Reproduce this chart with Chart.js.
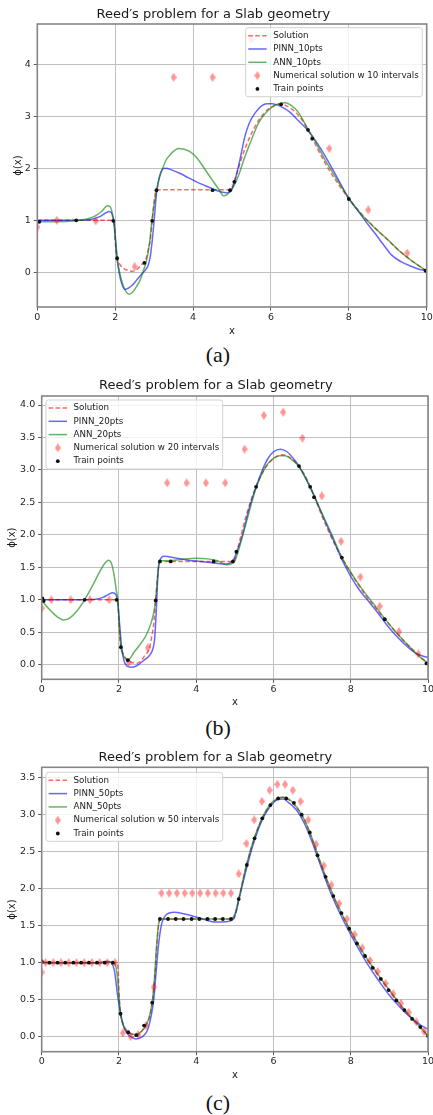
<!DOCTYPE html>
<html>
<head>
<meta charset="utf-8">
<script src="https://cdn.jsdelivr.net/npm/chart.js@4.4.0/dist/chart.umd.min.js"></script>
<style>
  body { margin: 0; background: #fff; width: 433px; height: 1115px; position: relative; overflow: hidden; }
  canvas { position: absolute; left: 0; }
  .cap { position: absolute; left: 0; width: 436px; text-align: center; font-family: "Liberation Serif", serif; font-size: 22px; line-height: 22px; color: #111; }
</style>
</head>
<body>
<canvas id="chartA" width="433" height="338" style="top:0px"></canvas>
<div class="cap" style="top:344px">(a)</div>
<canvas id="chartB" width="433" height="338" style="top:370px"></canvas>
<div class="cap" style="top:717px">(b)</div>
<canvas id="chartC" width="433" height="341" style="top:740px"></canvas>
<div class="cap" style="top:1092px">(c)</div>

<script>
// exact solution (same in all three panels)
const xSolution = [0, 0.05, 0.2, 1.0, 1.9, 1.95, 1.98, 2.0, 2.02, 2.04, 2.08, 2.14, 2.2, 2.28, 2.36, 2.45, 2.55, 2.62, 2.68, 2.75, 2.8, 2.85, 2.9, 2.95, 2.99, 3.03, 3.06, 3.1, 4.0, 4.97, 5.0, 5.05, 5.1, 5.3, 5.5, 5.7, 5.9, 6.1, 6.25, 6.4, 6.6, 6.8, 7.0, 7.2, 7.4, 7.6, 7.8, 8.0, 8.2, 8.4, 8.6, 8.8, 9.0, 9.2, 9.4, 9.6, 9.8, 10.0];
const ySolution = [0.99, 1.0, 1.0, 1.0, 1.0, 0.99, 0.9, 0.62, 0.42, 0.31, 0.21, 0.13, 0.085, 0.05, 0.03, 0.02, 0.05, 0.1, 0.15, 0.2, 0.28, 0.44, 0.62, 0.99, 1.3, 1.52, 1.58, 1.59, 1.59, 1.59, 1.62, 1.73, 1.85, 2.31, 2.67, 2.94, 3.12, 3.21, 3.235, 3.2, 3.1, 2.93, 2.67, 2.37, 2.09, 1.84, 1.62, 1.42, 1.23, 1.06, 0.91, 0.76, 0.62, 0.48, 0.35, 0.235, 0.125, 0.01];

// (a) 10 points
const xPinn10 = [0, 0.5, 1.0, 1.4, 1.6, 1.75, 1.85, 1.92, 1.97, 2.02, 2.05, 2.1, 2.17, 2.25, 2.35, 2.45, 2.55, 2.65, 2.77, 2.85, 2.9, 2.95, 3.0, 3.07, 3.14, 3.2, 3.28, 3.45, 3.67, 3.9, 4.09, 4.3, 4.52, 4.7, 4.87, 4.97, 5.08, 5.2, 5.33, 5.45, 5.59, 5.76, 5.9, 6.02, 6.15, 6.3, 6.5, 6.7, 6.96, 7.2, 7.39, 7.6, 7.82, 8.0, 8.25, 8.45, 8.67, 8.9, 9.1, 9.35, 9.62, 9.8, 10];
const yPinn10 = [1.0, 1.0, 1.0, 1.02, 1.07, 1.14, 1.17, 1.12, 0.95, 0.5, 0.27, 0.0, -0.22, -0.33, -0.3, -0.24, -0.15, -0.06, 0.04, 0.14, 0.3, 0.6, 1.0, 1.58, 1.85, 1.97, 2.0, 1.97, 1.9, 1.81, 1.74, 1.67, 1.6, 1.55, 1.53, 1.56, 1.78, 2.15, 2.61, 2.88, 3.06, 3.2, 3.24, 3.24, 3.22, 3.17, 3.07, 2.92, 2.72, 2.47, 2.24, 1.96, 1.66, 1.42, 1.17, 0.96, 0.75, 0.52, 0.33, 0.2, 0.11, 0.06, 0.03];
const xAnn10 = [0, 0.5, 1.0, 1.3, 1.5, 1.65, 1.8, 1.87, 1.93, 1.97, 2.02, 2.05, 2.1, 2.18, 2.27, 2.36, 2.45, 2.55, 2.64, 2.72, 2.81, 2.88, 2.94, 3.0, 3.07, 3.13, 3.2, 3.3, 3.41, 3.52, 3.62, 3.75, 3.92, 4.1, 4.26, 4.45, 4.61, 4.7, 4.78, 4.88, 5.0, 5.1, 5.2, 5.33, 5.5, 5.68, 5.85, 6.02, 6.2, 6.36, 6.5, 6.7, 6.96, 7.15, 7.39, 7.7, 8.0, 8.3, 8.67, 9.0, 9.27, 9.6, 10];
const yAnn10 = [0.97, 0.97, 0.99, 1.03, 1.09, 1.17, 1.28, 1.26, 1.12, 0.95, 0.55, 0.27, 0.05, -0.2, -0.36, -0.42, -0.38, -0.27, -0.15, 0.02, 0.24, 0.55, 0.97, 1.3, 1.58, 1.8, 1.96, 2.15, 2.26, 2.34, 2.38, 2.37, 2.32, 2.2, 2.03, 1.82, 1.65, 1.55, 1.47, 1.5, 1.6, 1.74, 1.93, 2.22, 2.55, 2.87, 3.05, 3.17, 3.24, 3.26, 3.22, 3.08, 2.74, 2.5, 2.16, 1.78, 1.42, 1.13, 0.85, 0.63, 0.43, 0.23, 0.03];
const xNum10 = [0, 0.5, 1.5, 2.5, 3.5, 4.5, 5.5, 6.5, 7.5, 8.5, 9.5];
const yNum10 = [0.87, 1.0, 0.99, 0.11, 3.75, 3.75, 4.48, 4.05, 2.38, 1.2, 0.37];
const xTrain10 = [0.05, 1.0, 1.95, 2.05, 2.75, 2.95, 3.06, 4.5, 4.95, 5.06, 6.26, 6.95, 7.06, 8.0, 9.97];
const yTrain10 = [0.97, 1.0, 0.99, 0.27, 0.18, 0.99, 1.58, 1.58, 1.58, 1.74, 3.23, 2.74, 2.57, 1.41, 0.03];

// (b) 20 points
const xPinn20 = [0, 0.5, 1.0, 1.4, 1.6, 1.72, 1.84, 1.92, 1.97, 2.02, 2.07, 2.13, 2.2, 2.31, 2.45, 2.65, 2.8, 2.87, 2.92, 2.95, 2.98, 3.01, 3.06, 3.17, 3.5, 3.8, 4.1, 4.4, 4.7, 4.85, 4.95, 5.04, 5.2, 5.35, 5.55, 5.7, 5.86, 6.0, 6.18, 6.35, 6.55, 6.66, 6.85, 7.06, 7.3, 7.55, 7.77, 8.0, 8.2, 8.43, 8.7, 8.95, 9.2, 9.46, 9.7, 10];
const yPinn20 = [1.0, 1.0, 1.0, 1.01, 1.04, 1.08, 1.11, 1.08, 0.95, 0.6, 0.27, 0.06, -0.02, -0.04, -0.02, 0.07, 0.15, 0.23, 0.38, 0.64, 1.0, 1.4, 1.61, 1.67, 1.64, 1.61, 1.59, 1.57, 1.55, 1.56, 1.6, 1.72, 2.0, 2.36, 2.74, 2.98, 3.18, 3.28, 3.32, 3.28, 3.15, 3.06, 2.85, 2.59, 2.26, 1.92, 1.62, 1.36, 1.17, 1.0, 0.8, 0.6, 0.43, 0.28, 0.17, 0.11];
const xAnn20 = [0, 0.08, 0.17, 0.3, 0.42, 0.55, 0.7, 0.9, 1.11, 1.3, 1.5, 1.63, 1.73, 1.8, 1.88, 1.93, 1.97, 2.01, 2.05, 2.1, 2.16, 2.23, 2.4, 2.57, 2.7, 2.83, 2.9, 2.95, 3.0, 3.04, 3.1, 3.3, 3.6, 4.0, 4.3, 4.55, 4.79, 4.9, 5.0, 5.1, 5.3, 5.55, 5.8, 6.0, 6.15, 6.3, 6.45, 6.66, 6.95, 7.2, 7.5, 7.77, 8.0, 8.3, 8.6, 8.88, 9.2, 9.5, 9.75, 10];
const yAnn20 = [1.0, 0.93, 0.87, 0.79, 0.73, 0.69, 0.71, 0.82, 1.0, 1.2, 1.43, 1.56, 1.61, 1.57, 1.36, 1.15, 1.0, 0.6, 0.27, 0.16, 0.1, 0.07, 0.2, 0.33, 0.45, 0.64, 0.8, 1.0, 1.35, 1.59, 1.6, 1.6, 1.62, 1.64, 1.63, 1.6, 1.54, 1.55, 1.6, 1.77, 2.2, 2.72, 3.05, 3.18, 3.22, 3.22, 3.17, 3.05, 2.74, 2.4, 2.02, 1.65, 1.42, 1.16, 0.93, 0.71, 0.48, 0.29, 0.14, 0.02];
const xNum20 = [0, 0.25, 0.75, 1.25, 1.75, 2.25, 2.75, 3.25, 3.75, 4.25, 4.75, 5.25, 5.75, 6.25, 6.75, 7.25, 7.75, 8.25, 8.75, 9.25, 9.75];
const yNum20 = [0.87, 1.0, 1.0, 1.0, 1.0, 0.03, 0.26, 2.8, 2.8, 2.8, 2.8, 3.32, 3.84, 3.89, 3.49, 2.6, 1.9, 1.35, 0.9, 0.51, 0.165];
const xTrain20 = [0.02, 0.05, 1.11, 1.94, 2.05, 2.23, 2.95, 3.06, 3.34, 4.45, 4.95, 5.04, 5.55, 6.66, 6.95, 7.05, 7.77, 8.88, 9.96];
const yTrain20 = [1.02, 0.98, 1.0, 1.0, 0.27, 0.07, 0.99, 1.59, 1.59, 1.59, 1.59, 1.74, 2.74, 3.06, 2.74, 2.58, 1.65, 0.7, 0.02];

// (c) 50 points
const xPinn50 = [0, 0.5, 1.0, 1.5, 1.7, 1.8, 1.88, 1.97, 2.04, 2.14, 2.22, 2.31, 2.44, 2.61, 2.74, 2.83, 2.9, 2.96, 3.02, 3.1, 3.21, 3.43, 3.68, 4.11, 4.5, 4.67, 4.85, 4.97, 5.05, 5.1, 5.3, 5.5, 5.7, 5.9, 6.1, 6.25, 6.4, 6.6, 6.8, 7.0, 7.2, 7.4, 7.6, 7.8, 8.0, 8.2, 8.4, 8.6, 8.8, 9.0, 9.2, 9.4, 9.6, 9.8, 10];
const yPinn50 = [1.0, 1.0, 1.0, 1.0, 1.02, 1.0, 0.9, 0.54, 0.32, 0.11, 0.04, 0.0, -0.03, 0.0, 0.09, 0.27, 0.5, 0.86, 1.22, 1.51, 1.64, 1.68, 1.66, 1.6, 1.55, 1.55, 1.56, 1.6, 1.72, 1.84, 2.27, 2.64, 2.92, 3.1, 3.2, 3.21, 3.16, 3.06, 2.88, 2.63, 2.34, 2.05, 1.8, 1.58, 1.38, 1.19, 1.01, 0.85, 0.7, 0.56, 0.44, 0.33, 0.24, 0.16, 0.1];
const xAnn50 = [0, 0.5, 1.0, 1.5, 1.8, 1.9, 1.95, 2.0, 2.04, 2.1, 2.2, 2.3, 2.45, 2.6, 2.7, 2.8, 2.86, 2.92, 2.97, 3.02, 3.06, 3.12, 3.5, 4.0, 4.5, 4.9, 5.0, 5.1, 5.3, 5.5, 5.7, 5.9, 6.1, 6.25, 6.4, 6.6, 6.8, 7.0, 7.2, 7.4, 7.6, 7.8, 8.0, 8.2, 8.4, 8.6, 8.8, 9.0, 9.2, 9.4, 9.6, 9.8, 10];
const yAnn50 = [1.01, 1.0, 1.0, 1.0, 1.01, 0.98, 0.85, 0.55, 0.31, 0.17, 0.07, 0.04, 0.03, 0.08, 0.15, 0.3, 0.46, 0.8, 1.2, 1.5, 1.59, 1.59, 1.59, 1.59, 1.59, 1.59, 1.66, 1.86, 2.32, 2.68, 2.95, 3.13, 3.22, 3.235, 3.21, 3.1, 2.93, 2.68, 2.38, 2.1, 1.85, 1.63, 1.43, 1.24, 1.07, 0.92, 0.77, 0.63, 0.49, 0.36, 0.24, 0.13, 0.01];
const xNum50 = [0, 0.1, 0.3, 0.5, 0.7, 0.9, 1.1, 1.3, 1.5, 1.7, 1.9, 2.1, 2.3, 2.5, 2.7, 2.9, 3.1, 3.3, 3.5, 3.7, 3.9, 4.1, 4.3, 4.5, 4.7, 4.9, 5.1, 5.3, 5.5, 5.7, 5.9, 6.1, 6.3, 6.5, 6.7, 6.9, 7.1, 7.3, 7.5, 7.7, 7.9, 8.1, 8.3, 8.5, 8.7, 8.9, 9.1, 9.3, 9.5, 9.7, 9.9];
const yNum50 = [0.87, 1.0, 1.0, 1.0, 1.0, 1.0, 1.0, 1.0, 1.0, 1.0, 1.0, 0.05, 0.0, 0.03, 0.15, 0.67, 1.94, 1.94, 1.94, 1.94, 1.94, 1.94, 1.94, 1.94, 1.94, 1.94, 2.2, 2.61, 2.93, 3.18, 3.33, 3.41, 3.41, 3.33, 3.18, 2.93, 2.6, 2.31, 2.05, 1.8, 1.59, 1.38, 1.2, 1.03, 0.88, 0.72, 0.58, 0.45, 0.33, 0.2, 0.07];
const xTrain50 = [0, 0.2, 0.41, 0.61, 0.82, 1.02, 1.22, 1.43, 1.63, 1.84, 2.04, 2.24, 2.45, 2.65, 2.86, 3.06, 3.27, 3.47, 3.67, 3.88, 4.08, 4.29, 4.49, 4.69, 4.9, 5.1, 5.31, 5.51, 5.71, 5.92, 6.12, 6.33, 6.53, 6.73, 6.94, 7.14, 7.35, 7.55, 7.76, 7.96, 8.16, 8.37, 8.57, 8.78, 8.98, 9.18, 9.39, 9.59, 9.8, 10];
const yTrain50 = [1.02, 1.0, 1.0, 1.0, 1.0, 1.0, 1.0, 1.0, 1.0, 1.0, 0.31, 0.06, 0.02, 0.15, 0.46, 1.59, 1.59, 1.59, 1.59, 1.59, 1.59, 1.59, 1.59, 1.59, 1.59, 1.86, 2.32, 2.68, 2.95, 3.13, 3.22, 3.22, 3.16, 3.0, 2.76, 2.45, 2.16, 1.9, 1.67, 1.46, 1.26, 1.09, 0.93, 0.78, 0.63, 0.49, 0.36, 0.24, 0.13, 0.01];

const titleText = 'Reed\u2032s problem for a Slab geometry';

Chart.defaults.font.family = '"DejaVu Sans", sans-serif';

// thin diamond like matplotlib 'd'
function thinDiamond(color) {
    const c = document.createElement('canvas');
    c.width = 6; c.height = 9;
    const g = c.getContext('2d');
    g.fillStyle = color;
    g.beginPath();
    g.moveTo(3, 0); g.lineTo(6, 4.5); g.lineTo(3, 9); g.lineTo(0, 4.5);
    g.closePath();
    g.fill();
    return c;
}
const diamond = thinDiamond('rgba(255,0,0,0.42)');

function series(xs, ys) {
    return xs.map((x, i) => ({ x: x, y: ys[i] }));
}

// spines above the lines, legend on top of everything
const frameAndLegend = {
    id: 'frameAndLegend',
    afterDatasetsDraw(chart) {
        const { ctx, chartArea: a } = chart;
        ctx.save();
        ctx.strokeStyle = '#858585';
        ctx.lineWidth = 1.6;
        ctx.strokeRect(a.left, a.top, a.right - a.left, a.bottom - a.top);
        ctx.restore();
    },
    afterDraw(chart, args, opts) {
        const { ctx, chartArea: a } = chart;
        const sets = chart.data.datasets;
        ctx.save();
        ctx.font = '8.7px "DejaVu Sans"';
        let tw = 0;
        sets.forEach(d => { tw = Math.max(tw, ctx.measureText(d.label).width); });
        const w = 27.6 + tw + 3.5, h = 69;
        const x0 = opts.side === 'right' ? a.right - opts.inset - w : a.left + opts.inset;
        const y0 = a.top + opts.top;
        ctx.beginPath();
        ctx.roundRect(x0, y0, w, h, 2.5);
        ctx.fillStyle = 'rgba(255,255,255,0.8)';
        ctx.fill();
        ctx.strokeStyle = '#d2d2d2';
        ctx.lineWidth = 1;
        ctx.stroke();
        sets.forEach((d, i) => {
            const cy = y0 + 8 + i * 13.3;
            if (d.showLine) {
                ctx.beginPath();
                ctx.setLineDash(d.borderDash || []);
                ctx.strokeStyle = d.borderColor;
                ctx.lineWidth = d.borderWidth;
                ctx.moveTo(x0 + 2.6, cy);
                ctx.lineTo(x0 + 21, cy);
                ctx.stroke();
                ctx.setLineDash([]);
            } else if (d.pointStyle === diamond) {
                ctx.drawImage(diamond, x0 + 11.8 - 3, cy - 4.5);
            } else {
                ctx.beginPath();
                ctx.arc(x0 + 11.8, cy, d.pointRadius, 0, Math.PI * 2);
                ctx.fillStyle = d.backgroundColor;
                ctx.fill();
            }
            ctx.fillStyle = '#1a1a1a';
            ctx.textBaseline = 'middle';
            ctx.textAlign = 'left';
            ctx.fillText(d.label, x0 + 27.6, cy);
        });
        ctx.restore();
    }
};
Chart.register(frameAndLegend);

function makeDatasets(n, xp, yp, xa, ya, xn, yn, xt, yt) {
    const line = { showLine: true, pointRadius: 0, pointHoverRadius: 0, borderWidth: 1.5, cubicInterpolationMode: 'monotone', clip: 0 };
    return [
        Object.assign({ label: 'Solution', data: series(xSolution, ySolution), borderColor: 'rgba(255,0,0,0.6)', borderDash: [4.5, 2.5], order: 5 }, line),
        Object.assign({ label: 'PINN_' + n + 'pts', data: series(xp, yp), borderColor: 'rgba(0,0,255,0.6)', order: 4 }, line),
        Object.assign({ label: 'ANN_' + n + 'pts', data: series(xa, ya), borderColor: 'rgba(0,128,0,0.6)', order: 3 }, line),
        { label: 'Numerical solution w ' + n + ' intervals', data: series(xn, yn), showLine: false, pointStyle: diamond, pointRadius: 4, pointHoverRadius: 4, clip: 0, order: 2 },
        { label: 'Train points', data: series(xt, yt), showLine: false, pointStyle: 'circle', pointRadius: 1.9, pointHoverRadius: 1.9, backgroundColor: '#111', borderWidth: 0, clip: 0, order: 1 }
    ];
}

function makeChart(id, p, datasets) {
    return new Chart(document.getElementById(id), {
        type: 'scatter',
        data: { datasets: datasets },
        options: {
            responsive: false,
            animation: false,
            events: [],
            layout: { padding: { left: 0, right: 433 - p.right, top: 0, bottom: 0 } },
            plugins: {
                legend: { display: false },
                tooltip: { enabled: false },
                title: {
                    display: true, text: titleText, color: '#1a1a1a',
                    font: { size: 13, weight: 'normal' },
                    padding: { top: p.titleTop, bottom: p.top - p.titleTop - 15.6 }
                },
                frameAndLegend: p.legend
            },
            scales: {
                x: {
                    type: 'linear', min: 0, max: 10,
                    ticks: { stepSize: 2, padding: 1, color: '#262626', font: { size: 9.5 }, maxRotation: 0, includeBounds: false },
                    grid: { color: '#c0c0c0', lineWidth: 1, tickLength: 3.5, tickColor: '#555' },
                    border: { display: false },
                    title: { display: true, text: 'x', color: '#1a1a1a', font: { size: 10 }, padding: { top: 0, bottom: p.xTitlePad } },
                    afterFit: s => { s.height = p.height - p.bottom; s.paddingLeft = 0; s.paddingRight = 0; }
                },
                y: {
                    type: 'linear', min: p.ymin, max: p.ymax,
                    ticks: {
                        stepSize: p.ystep, padding: 3, color: '#262626', font: { size: 9.5 }, includeBounds: false,
                        callback: v => p.ystep < 1 ? v.toFixed(1) : String(v)
                    },
                    grid: { color: '#c0c0c0', lineWidth: 1, tickLength: 3.5, tickColor: '#555' },
                    border: { display: false },
                    title: { display: true, text: '\u03d5(x)', color: '#1a1a1a', font: { size: 10 }, padding: { top: p.yTitlePad, bottom: 0 } },
                    afterFit: s => { s.width = p.left; s.paddingTop = 0; s.paddingBottom = 0; }
                }
            }
        }
    });
}

makeChart('chartA', {
    height: 338, left: 37.3, right: 426.7, top: 24, bottom: 307, titleTop: 6.9, yTitlePad: 12, xTitlePad: 0.3,
    ymin: -0.667, ymax: 4.775, ystep: 1, legend: { side: 'right', inset: 4.4, top: 3.7 }
}, makeDatasets(10, xPinn10, yPinn10, xAnn10, yAnn10, xNum10, yNum10, xTrain10, yTrain10));

makeChart('chartB', {
    height: 338, left: 41.7, right: 431.7, top: 26, bottom: 309.3, titleTop: 8.2, yTitlePad: 6.7, xTitlePad: 0,
    ymin: -0.225, ymax: 4.139, ystep: 0.5, legend: { side: 'left', inset: 4.3, top: 4 }
}, makeDatasets(20, xPinn20, yPinn20, xAnn20, yAnn20, xNum20, yNum20, xTrain20, yTrain20));

makeChart('chartC', {
    height: 341, left: 41.7, right: 430.7, top: 27.3, bottom: 311.7, titleTop: 10.2, yTitlePad: 6.7, xTitlePad: 0,
    ymin: -0.203, ymax: 3.64, ystep: 0.5, legend: { side: 'left', inset: 4.3, top: 5 }
}, makeDatasets(50, xPinn50, yPinn50, xAnn50, yAnn50, xNum50, yNum50, xTrain50, yTrain50));
</script>
</body>
</html>
